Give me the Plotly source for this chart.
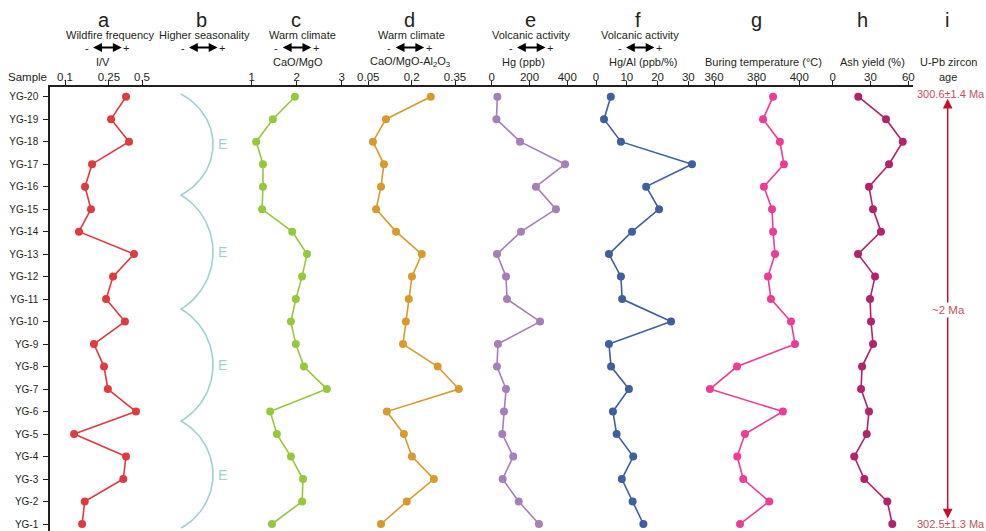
import numpy as np
import plotly.graph_objects as go

W, H = 986, 531
L, R, T, B = 50, 73, 87, 0
PW, PH = W - L - R, H - T - B

FONT = "Liberation Sans, Arial, sans-serif"
INK = "#231f20"

sample_no = list(range(1, 21))
sample_labels = [f"YG-{n}" for n in sample_no]

# proxy records, listed from YG-1 (bottom) up to YG-20 (top)
i_v = [0.143, 0.151, 0.338, 0.358, 0.121, 0.441, 0.245, 0.226, 0.183, 0.350,
       0.236, 0.273, 0.423, 0.134, 0.172, 0.152, 0.176, 0.381, 0.262, 0.358]
cao_mgo = [1.45, 2.12, 2.14, 1.87, 1.56, 1.41, 2.67, 2.16, 1.98, 1.87,
           1.98, 2.12, 2.23, 1.90, 1.23, 1.25, 1.25, 1.10, 1.47, 1.96]
cao_mgo_al2o3 = [0.094, 0.183, 0.277, 0.201, 0.173, 0.114, 0.363, 0.290, 0.170, 0.180,
                 0.190, 0.201, 0.235, 0.146, 0.077, 0.094, 0.104, 0.066, 0.111, 0.266]
hg_ppb = [250, 143, 58, 114, 56, 65, 76, 28, 33, 256,
          81, 76, 28, 155, 340, 234, 388, 150, 25, 30]
hg_al = [15.4, 11.9, 8.4, 12.1, 6.7, 5.5, 10.7, 4.9, 4.2, 24.4,
         8.5, 8.1, 4.2, 11.7, 20.5, 16.3, 31.2, 8.1, 2.6, 4.8]
burn_temp = [372.2, 385.9, 373.7, 370.9, 374.5, 392.3, 358.1, 370.8, 398.0, 396.1,
             386.7, 385.3, 388.6, 387.7, 387.2, 383.4, 392.8, 390.9, 383.0, 387.7]
ash_yield = [47.3, 43.3, 25.1, 17.1, 27.0, 28.8, 22.5, 23.3, 32.0, 30.4,
             29.6, 33.6, 20.1, 38.3, 32.0, 28.8, 44.7, 55.6, 42.3, 20.3]

# seasonality sketch: cusps between successive E-type arcs (sample-position units)
season_breaks = [20.12, 15.63, 10.56, 5.58, 0.82]

age_top = "300.6±1.4 Ma"
age_bottom = "302.5±1.3 Ma"
age_span = "~2 Ma"


def fx(px):
    return (px - L) / PW


def fy(py):
    return (H - B - py) / PH


def axis_range(v0, p0, v1, p1):
    k = (p1 - p0) / (v1 - v0)
    return [v0 + (L - p0) / k, v0 + (L + PW - p0) / k]


def label(fig, px, py, text, size, color=INK, family=FONT, **kw):
    fig.add_annotation(xref="paper", yref="paper", x=fx(px), y=fy(py), text=text,
                       showarrow=False, xanchor="center", yanchor="middle",
                       font=dict(family=family, size=size, color=color), **kw)


panels = [
    dict(letter="a", lx=104, head="Wildfire frequency", hx=110, arrow=106.7,
         unit="I/V", ux=103, values=i_v, color="#e0393e", type="log",
         ticks=[0.1, 0.25, 0.5], ticktext=["0.1", "0.25", "0.5"],
         cal=(np.log10(0.1), 65, np.log10(0.5), 142)),
    dict(letter="b", lx=201, head="Higher seasonality", hx=204, arrow=202.5,
         unit=None, values=None, color="#9fd0d3", type="linear",
         ticks=[], ticktext=[], cal=(0, 181, 1, 213)),
    dict(letter="c", lx=296, head="Warm climate", hx=302, arrow=296.3,
         unit="CaO/MgO", ux=298, values=cao_mgo, color="#96c83c", type="linear",
         ticks=[1, 2, 3], ticktext=["1", "2", "3"], cal=(1, 251.7, 3, 341.7)),
    dict(letter="d", lx=409, head="Warm climate", hx=411, arrow=409.2,
         unit="CaO/MgO-Al<sub>2</sub>O<sub>3</sub>", ux=410, values=cao_mgo_al2o3,
         color="#d99a2b", type="linear",
         ticks=[0.05, 0.2, 0.35], ticktext=["0.05", "0.2", "0.35"],
         cal=(0.05, 368.3, 0.35, 455)),
    dict(letter="e", lx=530, head="Volcanic activity", hx=531, arrow=530.5,
         unit="Hg (ppb)", ux=523, values=hg_ppb, color="#a57fb8", type="linear",
         ticks=[0, 200, 400], ticktext=["0", "200", "400"], cal=(0, 491.7, 400, 567.3)),
    dict(letter="f", lx=638, head="Volcanic activity", hx=640, arrow=639.5,
         unit="Hg/Al (ppb/%)", ux=643, values=hg_al, color="#3f5f9e", type="linear",
         ticks=[0, 10, 20, 30], ticktext=["0", "10", "20", "30"], cal=(0, 596, 30, 688.3)),
    dict(letter="g", lx=756, head=None, unit="Buring temperature (°C)", ux=763,
         values=burn_temp, color="#ee3c96", type="linear",
         ticks=[360, 380, 400], ticktext=["360", "380", "400"], cal=(360, 714, 400, 799.3)),
    dict(letter="h", lx=862, head=None, unit="Ash yield (%)", ux=872,
         values=ash_yield, color="#b3236b", type="linear",
         ticks=[0, 30, 60], ticktext=["0", "30", "60"], cal=(0, 832.7, 60, 908.3)),
]

fig = go.Figure()
layout_axes = {}

for i, p in enumerate(panels):
    name = "x" if i == 0 else f"x{i + 1}"
    key = "xaxis" if i == 0 else f"xaxis{i + 1}"
    ax = dict(
        type=p["type"], domain=[0, 1], side="top", anchor="y",
        range=axis_range(*p["cal"]), showgrid=False, zeroline=False,
        tickmode="array", tickvals=p["ticks"], ticktext=p["ticktext"],
        ticks="outside" if p["ticks"] else "", ticklen=5, tickwidth=1, tickcolor=INK,
        showticklabels=bool(p["ticks"]), ticklabelstandoff=-5,
        tickfont=dict(family=FONT, size=11.5, color=INK),
        showline=(i == 0), linecolor=INK, linewidth=1.5,
    )
    if i > 0:
        ax["overlaying"] = "x"
    layout_axes[key] = ax

    if p["values"] is not None:
        fig.add_trace(go.Scatter(
            x=p["values"], y=sample_no, xaxis=name, yaxis="y",
            mode="lines+markers", line=dict(color=p["color"], width=1.6),
            marker=dict(color=p["color"], size=8), showlegend=False,
            hoverinfo="skip"))

# panel b: stacked E-shaped arcs drawn as circular segments between the cusps
k = 0.869
bx, by = [], []
for top, bot in zip(season_breaks[:-1], season_breaks[1:]):
    t = np.linspace(-1, 1, 60)
    bulge = (np.sqrt(1 - (t * k) ** 2) - np.sqrt(1 - k ** 2)) / (1 - np.sqrt(1 - k ** 2))
    bx.extend(bulge.tolist())
    by.extend((top + (bot - top) * (t + 1) / 2).tolist())
fig.add_trace(go.Scatter(x=bx, y=by, xaxis="x2", yaxis="y", mode="lines",
                         line=dict(color=panels[1]["color"], width=1.6),
                         showlegend=False, hoverinfo="skip"))
for top, bot in zip(season_breaks[:-1], season_breaks[1:]):
    fig.add_annotation(xref="x2", yref="y", x=1.3, y=(top + bot) / 2, text="E",
                       showarrow=False, xanchor="center", yanchor="middle",
                       font=dict(family=FONT, size=14, color=panels[1]["color"]))

# header: panel letter, proxy meaning, direction arrow, variable name
for p in panels:
    label(fig, p["lx"], 20, p["letter"], 20)
    if p.get("head"):
        label(fig, p["hx"], 35.5, p["head"], 11)
        c = p["arrow"]
        fig.add_annotation(xref="paper", yref="paper", x=fx(c + 15), y=fy(47.5),
                           ax=-30, ay=0, axref="pixel", ayref="pixel", text="",
                           showarrow=True, arrowhead=2, arrowsize=0.8, arrowwidth=2.2,
                           arrowcolor="black", arrowside="end+start")
        label(fig, c - 20, 47.5, "-", 11)
        label(fig, c + 19.5, 48.5, "+", 11)
    if p.get("unit"):
        label(fig, p["ux"], 62, p["unit"], 11)

# panel i: U-Pb zircon age bracket
label(fig, 947, 20, "i", 20)
label(fig, 948, 62, "U-Pb zircon", 11)
label(fig, 948, 77, "age", 11)
label(fig, 27, 77, "Sample", 11.5)

AGE_RED = "#c8102e"
AGE_TXT = "#c4505c"
fig.add_annotation(xref="paper", yref="y", x=fx(947.7), y=sample_no[-1], ax=0, axref="pixel",
                   ayref="y", ay=sample_no[0], text="", showarrow=True, arrowhead=2,
                   arrowsize=1.3, arrowwidth=1.5, arrowcolor=AGE_RED,
                   arrowside="end+start", standoff=2, startstandoff=4)
label(fig, 951, 94, age_top, 11, color=AGE_TXT)
label(fig, 951, 524, age_bottom, 11, color=AGE_TXT)
label(fig, 948, 310, age_span, 11.5, color=AGE_TXT, bgcolor="white")

fig.update_layout(
    width=W, height=H,
    margin=dict(l=L, r=R, t=T, b=B, pad=0),
    paper_bgcolor="white", plot_bgcolor="white",
    font=dict(family=FONT, color=INK),
    yaxis=dict(range=[0.689, 20.431], tickmode="array", tickvals=sample_no,
               ticktext=sample_labels, ticks="outside", ticklen=5, tickwidth=1.2,
               tickcolor=INK, showline=True, linecolor=INK, linewidth=1.5,
               showgrid=False, zeroline=False, ticklabelstandoff=3,
               tickfont=dict(family=FONT, size=10, color=INK)),
    **layout_axes,
)

fig.write_html("out.html")
